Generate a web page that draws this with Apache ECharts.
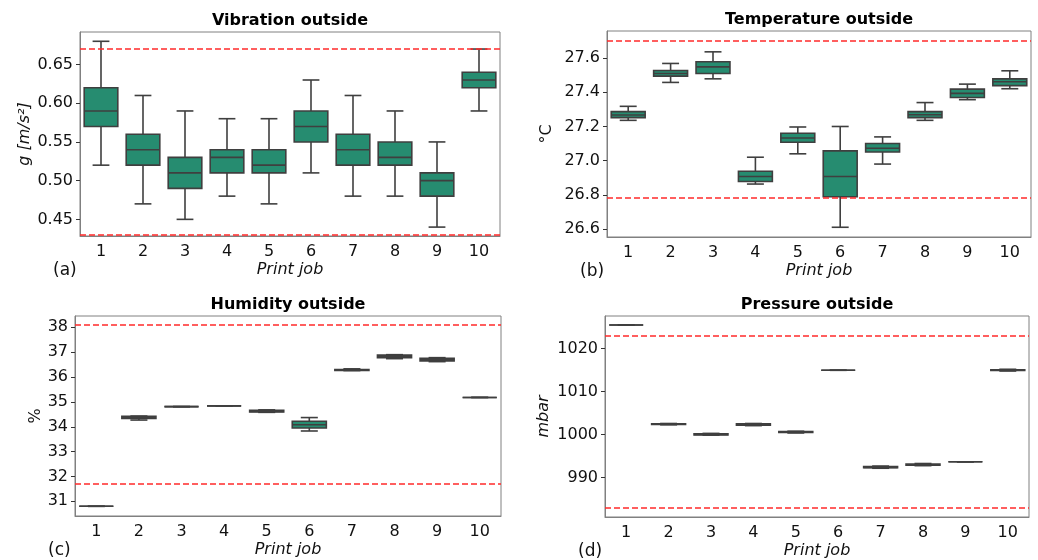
<!DOCTYPE html>
<html>
<head>
<meta charset="utf-8">
<script src="https://cdn.jsdelivr.net/npm/echarts@6/dist/echarts.min.js"></script>
<style>
  html, body { margin: 0; padding: 0; background: #fff; }
  #chart { width: 1038px; height: 560px; }
</style>
</head>
<body>
<div id="chart"></div>
<script>
// print jobs on the x axis
const jobs = ['1', '2', '3', '4', '5', '6', '7', '8', '9', '10']

// box rows per job: [low whisker, q1, median, q3, high whisker]
const vibrationBoxes = [
  [0.52, 0.57, 0.59, 0.62, 0.68],
  [0.47, 0.52, 0.54, 0.56, 0.61],
  [0.45, 0.49, 0.51, 0.53, 0.59],
  [0.48, 0.51, 0.53, 0.54, 0.58],
  [0.47, 0.51, 0.52, 0.54, 0.58],
  [0.51, 0.55, 0.57, 0.59, 0.63],
  [0.48, 0.52, 0.54, 0.56, 0.61],
  [0.48, 0.52, 0.53, 0.55, 0.59],
  [0.44, 0.48, 0.50, 0.51, 0.55],
  [0.59, 0.62, 0.63, 0.64, 0.67],
]
const temperatureBoxes = [
  [27.236, 27.252, 27.267, 27.287, 27.318],
  [27.458, 27.495, 27.510, 27.528, 27.569],
  [27.479, 27.510, 27.549, 27.579, 27.637],
  [26.863, 26.878, 26.907, 26.938, 27.020],
  [27.040, 27.108, 27.133, 27.160, 27.197],
  [26.610, 26.789, 26.907, 27.057, 27.200],
  [26.980, 27.051, 27.073, 27.100, 27.139],
  [27.236, 27.252, 27.269, 27.287, 27.340],
  [27.357, 27.370, 27.394, 27.419, 27.448],
  [27.421, 27.439, 27.462, 27.479, 27.526],
]
const humidityBoxes = [
  [30.80, 30.80, 30.80, 30.80, 30.80],
  [34.27, 34.33, 34.37, 34.42, 34.43],
  [34.81, 34.81, 34.81, 34.81, 34.81],
  [34.84, 34.84, 34.84, 34.84, 34.84],
  [34.58, 34.60, 34.62, 34.66, 34.68],
  [33.83, 33.95, 34.08, 34.22, 34.37],
  [36.26, 36.27, 36.28, 36.30, 36.33],
  [36.74, 36.78, 36.83, 36.88, 36.90],
  [36.62, 36.65, 36.70, 36.75, 36.78],
  [35.18, 35.18, 35.18, 35.18, 35.18],
]
const pressureBoxes = [
  [1025.5, 1025.5, 1025.5, 1025.5, 1025.5],
  [1002.3, 1002.35, 1002.45, 1002.55, 1002.6],
  [999.9, 999.95, 1000.05, 1000.2, 1000.3],
  [1002.1, 1002.2, 1002.37, 1002.5, 1002.6],
  [1000.4, 1000.5, 1000.6, 1000.7, 1000.8],
  [1014.97, 1014.97, 1014.97, 1014.97, 1014.97],
  [992.2, 992.3, 992.4, 992.6, 992.7],
  [992.8, 992.9, 993.0, 993.2, 993.3],
  [993.7, 993.7, 993.7, 993.7, 993.7],
  [1014.8, 1014.9, 1014.97, 1015.1, 1015.2],
]

// dashed red limit lines
const vibrationLimits = [0.67, 0.429]
const temperatureLimits = [27.705, 26.777]
const humidityLimits = [38.12, 31.70]
const pressureLimits = [1023.0, 983.0]

// y tick labels
const vibrationTicks = [0.45, 0.50, 0.55, 0.60, 0.65]
const temperatureTicks = [26.6, 26.8, 27.0, 27.2, 27.4, 27.6]
const humidityTicks = [31, 32, 33, 34, 35, 36, 37, 38]
const pressureTicks = [990, 1000, 1010, 1020]

const BOX = '#268c70'
const EDGE = '#3f3f3f'
const FONT = 'DejaVu Sans'

const panels = [
  { title: 'Vibration outside', tag: '(a)', yName: 'g [m/s²]', italic: true, boxes: vibrationBoxes, limits: vibrationLimits, ticks: vibrationTicks, digits: 2, min: 0.4285, max: 0.692, grid: { left: 80, top: 32, width: 420, height: 204 }, nameGap: 47 },
  { title: 'Temperature outside', tag: '(b)', yName: '°C', italic: false, boxes: temperatureBoxes, limits: temperatureLimits, ticks: temperatureTicks, digits: 1, min: 26.553, max: 27.759, grid: { left: 607, top: 31, width: 424, height: 206 }, nameGap: 52 },
  { title: 'Humidity outside', tag: '(c)', yName: '%', italic: false, boxes: humidityBoxes, limits: humidityLimits, ticks: humidityTicks, digits: 0, min: 30.41, max: 38.456, grid: { left: 75, top: 316, width: 426, height: 200 }, nameGap: 30 },
  { title: 'Pressure outside', tag: '(d)', yName: 'mbar', italic: true, boxes: pressureBoxes, limits: pressureLimits, ticks: pressureTicks, digits: 0, min: 980.87, max: 1027.58, grid: { left: 605, top: 316, width: 424, height: 201 }, nameGap: 53 },
]

// one box with whiskers and half-width caps, like seaborn
function renderBox(params, api) {
  const x = api.value(0)
  const cx = api.coord([x, api.value(1)])[0]
  const yLow = api.coord([x, api.value(1)])[1]
  const yQ1 = api.coord([x, api.value(2)])[1]
  const yMed = api.coord([x, api.value(3)])[1]
  const yQ3 = api.coord([x, api.value(4)])[1]
  const yHigh = api.coord([x, api.value(5)])[1]
  const half = api.size([1, 0])[0] * 0.4
  const cap = half / 2
  const line = { stroke: EDGE, lineWidth: 1.6 }
  return {
    type: 'group',
    children: [
      { type: 'line', shape: { x1: cx, y1: yLow, x2: cx, y2: yQ1 }, style: line },
      { type: 'line', shape: { x1: cx, y1: yQ3, x2: cx, y2: yHigh }, style: line },
      { type: 'line', shape: { x1: cx - cap, y1: yLow, x2: cx + cap, y2: yLow }, style: line },
      { type: 'line', shape: { x1: cx - cap, y1: yHigh, x2: cx + cap, y2: yHigh }, style: line },
      { type: 'rect', shape: { x: cx - half, y: yQ3, width: half * 2, height: yQ1 - yQ3 }, style: { fill: BOX, stroke: EDGE, lineWidth: 1.6 } },
      { type: 'line', shape: { x1: cx - half, y1: yMed, x2: cx + half, y2: yMed }, style: line },
    ],
  }
}

const option = {
  animation: false,
  backgroundColor: '#fff',
  textStyle: { fontFamily: FONT },
  title: panels.flatMap(p => [
    { text: p.title, left: p.grid.left + p.grid.width / 2, top: p.grid.top - 19, textAlign: 'center', padding: 0, textStyle: { fontFamily: FONT, fontSize: 16, fontWeight: 'bold', color: '#000' } },
    { text: p.tag, left: p.grid.left - 27, top: p.grid.top + p.grid.height + 26, padding: 0, textStyle: { fontFamily: FONT, fontSize: 17, fontWeight: 'normal', color: '#111' } },
  ]),
  grid: panels.map(p => ({ ...p.grid, show: true, borderColor: '#808080', borderWidth: 1, backgroundColor: 'transparent' })),
  xAxis: panels.map((p, i) => ({
    type: 'category',
    gridIndex: i,
    data: jobs,
    name: 'Print job',
    nameLocation: 'middle',
    nameGap: 26,
    nameTextStyle: { fontFamily: FONT, fontSize: 16, fontStyle: 'italic', color: '#111' },
    axisLine: { lineStyle: { color: '#808080' } },
    axisTick: { alignWithLabel: true, length: 4, lineStyle: { color: '#333' } },
    axisLabel: { fontFamily: FONT, fontSize: 16, color: '#111', margin: 8 },
    splitLine: { show: false },
  })),
  yAxis: panels.map((p, i) => ({
    type: 'value',
    gridIndex: i,
    min: p.min,
    max: p.max,
    name: p.yName,
    nameLocation: 'middle',
    nameGap: p.nameGap,
    nameTextStyle: { fontFamily: FONT, fontSize: 16, fontStyle: p.italic ? 'italic' : 'normal', color: '#111' },
    axisLine: { show: true, lineStyle: { color: '#808080' } },
    axisTick: { show: true, length: 4, lineStyle: { color: '#333' }, customValues: p.ticks },
    axisLabel: { fontFamily: FONT, fontSize: 16, color: '#111', margin: 7, customValues: p.ticks, formatter: v => Number(v).toFixed(p.digits) },
    splitLine: { show: false },
  })),
  series: panels.flatMap((p, i) => [
    {
      type: 'custom',
      xAxisIndex: i,
      yAxisIndex: i,
      renderItem: renderBox,
      encode: { x: 0, y: [1, 2, 3, 4, 5] },
      data: p.boxes.map((b, j) => [j, ...b]),
      silent: true,
      z: 3,
    },
    {
      type: 'line',
      xAxisIndex: i,
      yAxisIndex: i,
      data: [],
      silent: true,
      markLine: {
        silent: true,
        symbol: 'none',
        label: { show: false },
        lineStyle: { color: '#ff2a2a', width: 1.5, type: [6, 3] },
        data: p.limits.map(v => ({ yAxis: v })),
      },
      z: 2,
    },
  ]),
}

const chart = echarts.init(document.getElementById('chart'))
chart.setOption(option)
</script>
</body>
</html>
